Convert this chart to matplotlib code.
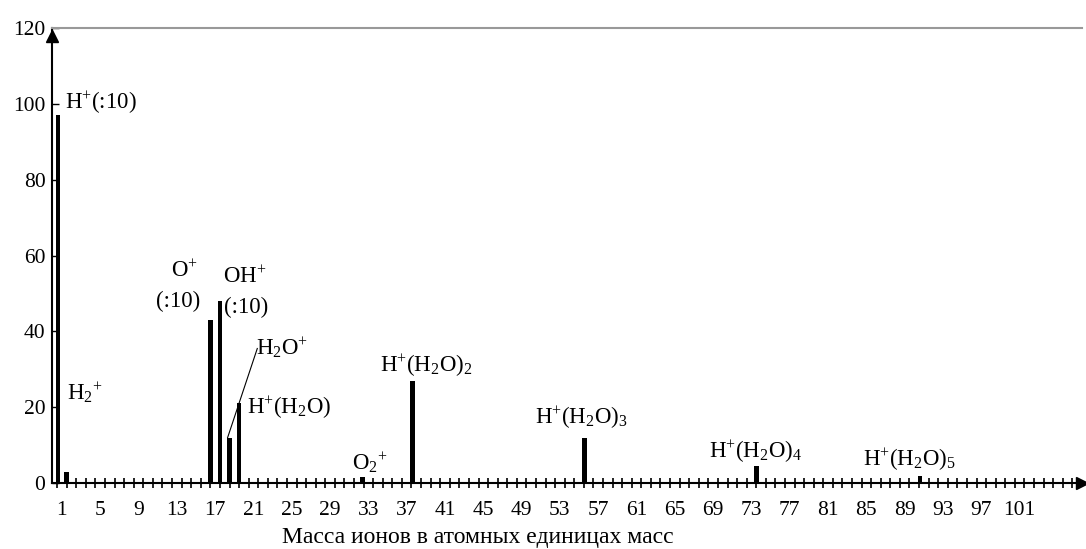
"""
Mass spectrum of ions: peak heights vs ion mass.
"""

import numpy as np
from matplotlib import pyplot as plt

plt.rcParams['font.family'] = ['Liberation Serif', 'DejaVu Serif']
plt.rcParams['mathtext.fontset'] = 'custom'
plt.rcParams['mathtext.rm'] = 'Liberation Serif'
plt.rcParams['mathtext.it'] = 'Liberation Serif:italic'
plt.rcParams['mathtext.default'] = 'regular'

# peak positions and heights
peak_x = [0.6, 1.5, 16.5, 17.5, 18.5, 19.5, 32.4, 37.6, 55.6, 73.5, 90.6]
peak_y = [97, 3, 43, 48, 12, 21, 1.5, 27, 12, 4.5, 2]

x_labels = list(range(1, 102, 4))
y_labels = [0, 20, 40, 60, 80, 100, 120]

ion_names = [r"H$^{+}$(:10)", r"H$_2{}^{+}$", r"O$^{+}$", "(:10)", r"OH$^{+}$", "(:10)",
             r"H$_2$O$^{+}$", r"H$^{+}$(H$_2$O)", r"O$_2{}^{+}$", r"H$^{+}$(H$_2$O)$_2$",
             r"H$^{+}$(H$_2$O)$_3$", r"H$^{+}$(H$_2$O)$_4$", r"H$^{+}$(H$_2$O)$_5$"]


def main():
    fig = plt.figure(figsize=(10.86, 5.49), dpi=100)
    ax = fig.add_axes([0.0482, 0.12, 0.948, 0.829])

    ax.bar(peak_x, peak_y, width=0.5, color='black', zorder=3)

    # where the ion names go (left x, center y)
    lbl_pos = [(1.3, 100.4), (1.5, 23.8), (12.4, 55.8), (10.8, 47.8), (17.8, 54.2),
               (17.9, 46.3), (21.3, 35.7), (20.3, 19.8), (31.3, 5.5), (34.2, 30.9),
               (50.4, 17.2), (68.6, 8.2), (84.6, 6.1)]
    for name, (lx, ly) in zip(ion_names, lbl_pos):
        ax.text(lx, ly, name, fontsize=16.5, ha='left', va='center', zorder=4)

    # leader line for H2O+
    ax.plot([18.3, 21.4], [12.0, 35.5], color='black', lw=0.8, zorder=4)

    ax.set_xlim(0, 107.5)
    ax.set_ylim(0, 120)

    ax.set_xticks(x_labels)
    ax.set_xticks(np.arange(0.5, 107, 1), minor=True)
    ax.tick_params(axis='x', which='major', length=0, pad=13, labelsize=15.5)
    ax.tick_params(axis='x', which='minor', direction='inout', length=7, width=1.2)
    ax.set_yticks(y_labels)
    ax.tick_params(axis='y', direction='in', length=5, width=1, pad=5, labelsize=15.5)

    ax.set_xlabel("Масса ионов в атомных единицах масс", fontsize=17)
    ax.xaxis.set_label_coords(0.413, -0.097)

    ax.spines['right'].set_color('none')
    ax.spines['top'].set_color('#999999')
    ax.spines['top'].set_linewidth(1.5)
    ax.spines['left'].set_linewidth(1.5)
    ax.spines['bottom'].set_linewidth(1.5)

    # arrow heads on the axes
    ax.plot(1, 0, '>k', ms=9, transform=ax.get_yaxis_transform(), clip_on=False)
    ax.plot(0, 0.982, '^k', ms=9, transform=ax.get_xaxis_transform(), clip_on=False)

    fig.savefig("out.png", dpi=100)


if __name__ == "__main__":
    main()
